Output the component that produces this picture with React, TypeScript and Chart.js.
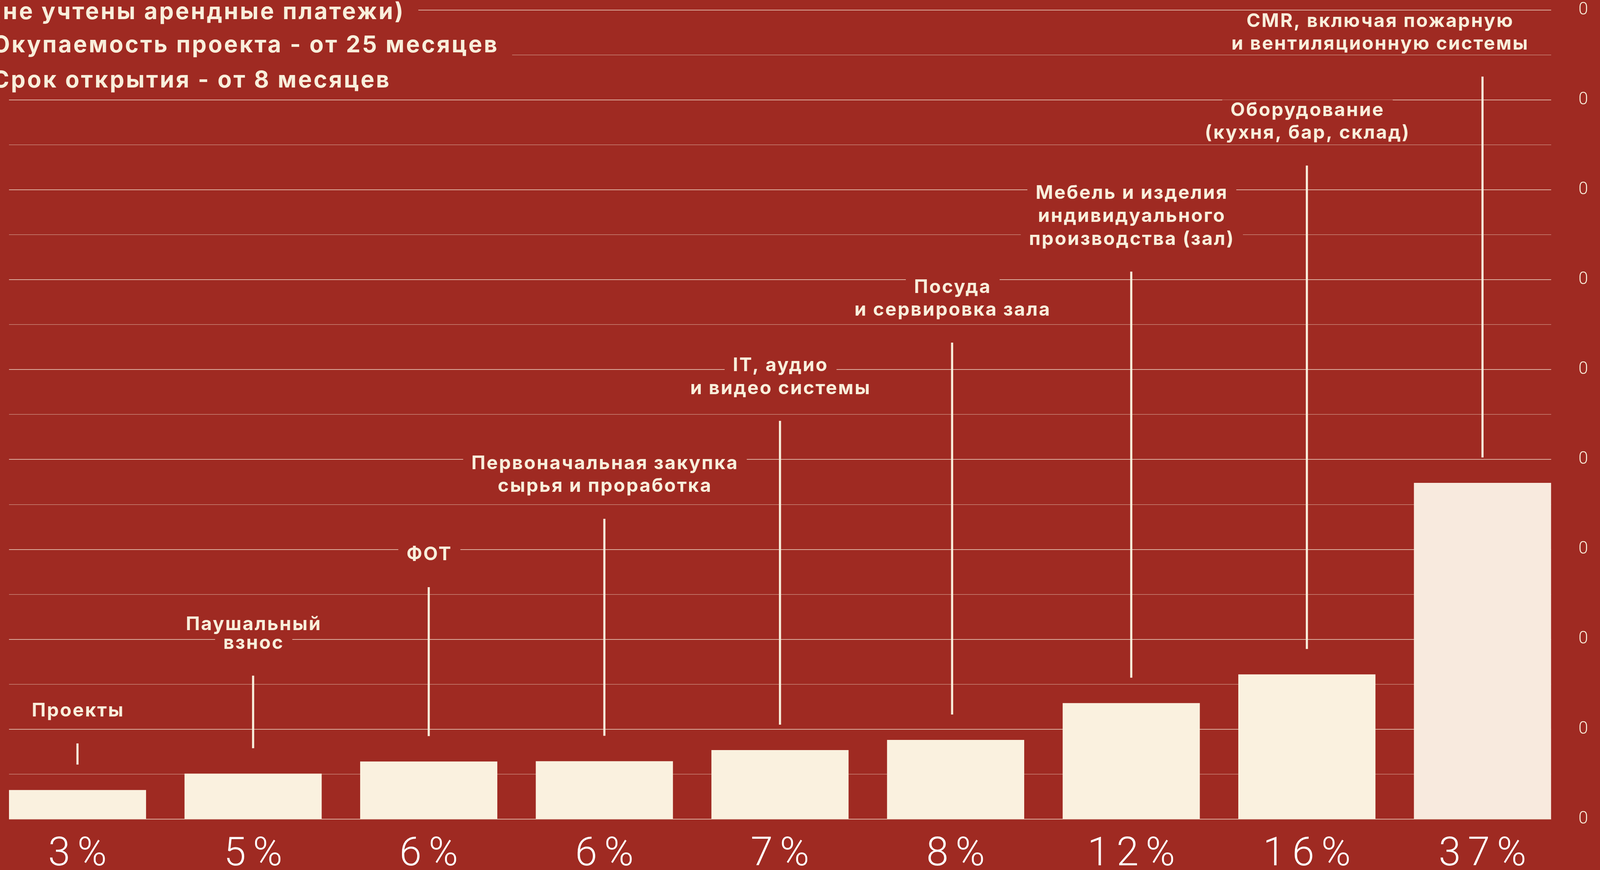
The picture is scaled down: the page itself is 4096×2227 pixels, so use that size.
import React, { useEffect, useRef } from 'react';
import { Chart, registerables } from 'chart.js';

Chart.register(...registerables);

// ---------- data ----------
const categories = [
  'Проекты',
  'Паушальный взнос',
  'ФОТ',
  'Первоначальная закупка сырья и проработка',
  'IT, аудио и видео системы',
  'Посуда и сервировка зала',
  'Мебель и изделия индивидуального производства (зал)',
  'Оборудование (кухня, бар, склад)',
  'CMR, включая пожарную и вентиляционную системы',
];
const shareLabels = ['3%', '5%', '6%', '6%', '7%', '8%', '12%', '16%', '37%'];
const barValues = [3.24, 5.06, 6.41, 6.44, 7.68, 8.81, 12.9, 16.1, 37.4];
const labelLines = [
  ['Проекты'],
  ['Паушальный', 'взнос'],
  ['ФОТ'],
  ['Первоначальная закупка', 'сырья и проработка'],
  ['IT, аудио', 'и видео системы'],
  ['Посуда', 'и сервировка зала'],
  ['Мебель и изделия', 'индивидуального', 'производства (зал)'],
  ['Оборудование', '(кухня, бар, склад)'],
  ['CMR, включая пожарную', 'и вентиляционную системы'],
];
// value (axis units) where each leader line starts, under its label
const leaderTops = [8.42, 15.96, 25.8, 33.4, 44.3, 53.0, 60.9, 72.7, 82.6];
const noteLines = [
  '(не учтены арендные платежи)',
  'Окупаемость проекта - от 25 месяцев',
  'Срок открытия - от 8 месяцев',
];
const yMax = 90;
const yStep = 5;
const yMajorLabel = '0';

// ---------- style / layout ----------
const W = 4096;
const H = 2227;
const BG = '#9F2A22';
const CREAM = '#F8EEDB';
const BAR = '#FAF1DF';
const BAR_LAST = '#F8EADE';
const labelShift = [0, 0, 0, 0, 0, -0.02, 0, 0, -0.586];
const labelLineGap = [58.6, 47.4, 58.6, 58.6, 58.6, 58.6, 58.6, 58.6, 58.6];
const LABEL_SIZE = 48;
const LABEL_LS = 3.1;
const LABEL_WEIGHT = 700;
const LABEL_CAP = 35;
const NOTE_SIZE = 59;
const NOTE_LS = 4.3;
const NOTE_CAP = 43;
const NOTE_X = -20;
const NOTE_BASES = [48.6, 134, 223.7];
const TEXT_GAP = 68.6;
const LEADER_GAP = 65;
const TICK_LS = 18;

const notesPlugin = {
  id: 'costNotes',
  beforeDraw(chart: any) {
    chart.ctx.letterSpacing = TICK_LS + 'px';
  },
  beforeDatasetsDraw(chart: any) {
    chart.ctx.letterSpacing = '0px';
  },
  afterDatasetsDraw(chart: any) {
    const ctx = chart.ctx;
    const xs = chart.scales.x;
    const ys = chart.scales.y;
    ctx.save();
    ctx.textBaseline = 'alphabetic';

    // header notes (top left)
    ctx.letterSpacing = NOTE_LS + 'px';
    ctx.font = `${LABEL_WEIGHT} ${NOTE_SIZE}px Inter`;
    ctx.textAlign = 'left';
    noteLines.forEach((t, k) => {
      const w = ctx.measureText(t).width;
      const b = NOTE_BASES[k];
      ctx.fillStyle = BG;
      ctx.fillRect(NOTE_X - 40, b - NOTE_CAP - 8, w + 40 + 34, NOTE_CAP + 8 + 11);
    });
    ctx.fillStyle = CREAM;
    noteLines.forEach((t, k) => ctx.fillText(t, NOTE_X, NOTE_BASES[k]));

    // category labels + leader lines
    ctx.letterSpacing = LABEL_LS + 'px';
    ctx.font = `${LABEL_WEIGHT} ${LABEL_SIZE}px Inter`;
    ctx.textAlign = 'center';
    const items = labelLines.map((lines, i) => {
      const lx = xs.getPixelForValue(i + labelShift[i]);
      const cx = xs.getPixelForValue(i + (i === labelLines.length - 1 ? labelShift[i] : labelShift[i])) + LABEL_LS / 2;
      const topPx = ys.getPixelForValue(leaderTops[i]);
      const lastBase = topPx - TEXT_GAP;
      const bases = lines.map((_, k) => lastBase - (lines.length - 1 - k) * labelLineGap[i]);
      return { lines, cx, lx, bases, topPx };
    });
    items.forEach(({ lines, cx, bases }) => {
      lines.forEach((t, k) => {
        const w = ctx.measureText(t).width;
        ctx.fillStyle = BG;
        ctx.fillRect(cx - w / 2 - 21, bases[k] - LABEL_CAP - 6, w + 42, LABEL_CAP + 6 + 10);
      });
    });
    ctx.fillStyle = CREAM;
    items.forEach(({ lines, cx, bases }) => {
      lines.forEach((t, k) => ctx.fillText(t, cx, bases[k]));
    });

    ctx.strokeStyle = CREAM;
    ctx.lineWidth = 5.5;
    items.forEach(({ topPx }, i) => {
      // leader sits on the bar, except where the label itself is nudged slightly
      const lx = xs.getPixelForValue(i + (Math.abs(labelShift[i]) < 0.1 ? labelShift[i] : 0));
      const bottom = ys.getPixelForValue(barValues[i]) - LEADER_GAP;
      ctx.beginPath();
      ctx.moveTo(lx, topPx);
      ctx.lineTo(lx, bottom);
      ctx.stroke();
    });
    ctx.restore();
  },
};

export default function App() {
  const ref = useRef<HTMLCanvasElement | null>(null);

  useEffect(() => {
    const canvas = ref.current;
    if (!canvas) return;
    const chart = new Chart(canvas, {
      type: 'bar',
      data: {
        datasets: [
          {
            label: 'Доля затрат',
            data: barValues.map((v, i) => ({ x: i, y: v })),
            backgroundColor: barValues.map((_, i) => (i === barValues.length - 1 ? BAR_LAST : BAR)),
            borderWidth: 0,
            barPercentage: 0.781,
            categoryPercentage: 1,
          },
        ],
      },
      options: {
        responsive: false,
        devicePixelRatio: 1,
        animation: false,
        events: [],
        layout: { padding: { left: 23, top: 25.6, right: 0, bottom: 0 } },
        plugins: {
          legend: { display: false },
          tooltip: { enabled: false },
        },
        scales: {
          x: {
            type: 'linear',
            offset: false,
            min: -0.39,
            max: 8.391,
            grid: { display: false, drawTicks: false, offset: false },
            border: { display: false },
            afterBuildTicks: (scale: any) => {
              scale.ticks = categories.map((_, i) => ({ value: i }));
            },
            afterFit: (scale: any) => {
              scale.height = 130.3;
              scale.paddingLeft = 0;
              scale.paddingRight = 0;
            },
            ticks: {
              autoSkip: false,
              maxRotation: 0,
              minRotation: 0,
              padding: 42,
              labelOffset: TICK_LS / 2,
              color: '#FFFFFF',
              font: { family: 'Roboto', size: 102, weight: '300', lineHeight: 1 },
              callback: (v: any) => shareLabels[Math.round(Number(v))] ?? '',
            },
          },
          y: {
            type: 'linear',
            position: 'right',
            min: 0,
            max: yMax,
            grid: {
              drawTicks: false,
              color: (c: any) =>
                c.tick && c.tick.value % (yStep * 2) === 0
                  ? 'rgba(248,236,218,0.9)'
                  : 'rgba(248,236,218,0.55)',
              lineWidth: (c: any) => (c.tick && c.tick.value % (yStep * 2) === 0 ? 1.6 : 1.3),
            },
            border: { display: false },
            afterFit: (scale: any) => {
              scale.width = 125;
              scale.paddingTop = 0;
              scale.paddingBottom = 0;
            },
            ticks: {
              stepSize: yStep,
              padding: 70,
              color: CREAM,
              font: { family: 'Roboto', size: 44, weight: '300' },
              callback: (v: any) => (Number(v) % (yStep * 2) === 0 ? yMajorLabel : ''),
            },
          },
        },
      } as any,
      plugins: [notesPlugin],
    });
    return () => chart.destroy();
  }, []);

  return (
    <div
      style={{
        position: 'fixed',
        left: 0,
        top: 0,
        width: W,
        height: H,
        background: BG,
        overflow: 'hidden',
      }}
    >
      <canvas ref={ref} width={W} height={H} style={{ display: 'block', width: W, height: H }} />
    </div>
  );
}
